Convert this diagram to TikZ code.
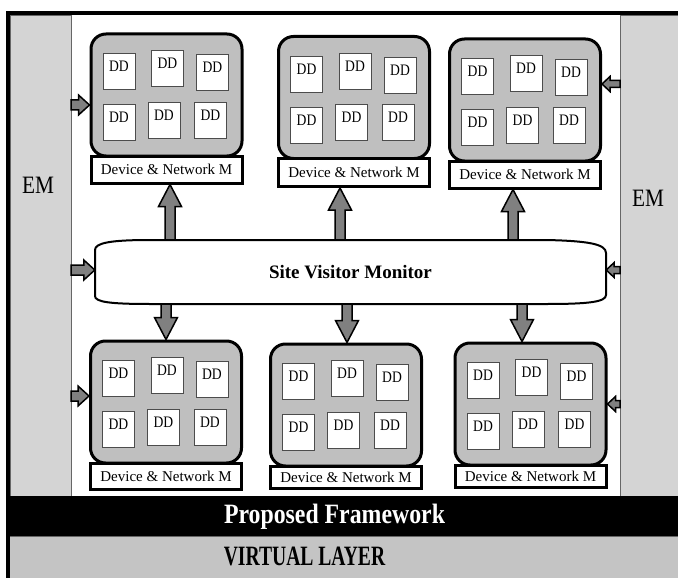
\documentclass[tikz,border=0pt]{standalone}
\usepackage{fontspec}
\setmainfont{Liberation Serif}
\newfontfamily\narrowfont{Liberation Serif}[FakeStretch=0.85]
\newfontfamily\tightfont{Liberation Serif}[FakeStretch=0.7]
\usetikzlibrary{calc,positioning}

\definecolor{modgray}{gray}{0.75}
\definecolor{stripgray}{gray}{0.83}
\definecolor{layergray}{gray}{0.77}
\definecolor{arrowgray}{gray}{0.5}

\tikzset{
  strip/.style={draw=black!60, line width=0.8pt, fill=stripgray, minimum height=481pt, inner sep=0pt, outer sep=0pt},
  module/.style={draw, line width=3pt, fill=modgray, rounded corners=15pt, minimum width=151pt, minimum height=122pt, inner sep=0pt},
  devlabel/.style={draw, line width=3pt, fill=white, minimum width=151pt, inner sep=0pt, font=\fontsize{15}{18}\selectfont},
  ddbox/.style={draw=black!70, line width=0.9pt, fill=white, minimum width=32pt, minimum height=36pt, inner sep=0pt, text depth=10pt, font=\narrowfont\fontsize{16}{18}\selectfont},
  blockarrow/.style args={#1/#2/#3}{draw, fill=arrowgray, line width=1.5pt, line join=miter,
    to path={($(\tikztostart)!#1!90:(\tikztotarget)$)
      -- ($(\tikztotarget)!#3!(\tikztostart)!#1!-90:(\tikztostart)$)
      -- ($(\tikztotarget)!#3!(\tikztostart)!#2!-90:(\tikztostart)$)
      -- (\tikztotarget)
      -- ($(\tikztotarget)!#3!(\tikztostart)!#2!90:(\tikztostart)$)
      -- ($(\tikztotarget)!#3!(\tikztostart)!#1!90:(\tikztostart)$)
      -- ($(\tikztostart)!#1!-90:(\tikztotarget)$) -- cycle}},
  bigarrow/.style={blockarrow=5pt/11.5pt/22pt},
  sidearrow/.style={blockarrow=5pt/10pt/11pt},
  smallarrow/.style={blockarrow=3.5pt/7.5pt/8pt}
}

\begin{document}
\begin{tikzpicture}[x=1pt,y=-1pt]
\useasboundingbox (0,0) rectangle (678,578);

% layers and side strips
\node[strip, minimum width=61pt] (emL) at (40.5,255.5) {};
\node[strip, minimum width=58pt] (emR) at (649,255.5) {};
\fill (10,496) rectangle (678,536);
\fill[layergray] (10,536) rectangle (678,578);
\draw[black!60, line width=0.8pt] (10,536) -- (678,536);
\draw[line width=4pt, line join=miter] (8,578) -- (8,13) -- (678,13);

\node[font=\narrowfont\fontsize{25}{28}\selectfont, anchor=base] (emLtext) at (38,193) {EM};
\node[font=\narrowfont\fontsize{25}{28}\selectfont, anchor=base] (emRtext) at (648,206) {EM};
\node[font=\narrowfont\bfseries\fontsize{28}{30}\selectfont, text=white, anchor=base] (fwtext) at (334.5,523) {Proposed Framework};
\node[font=\tightfont\bfseries\fontsize{28}{30}\selectfont, anchor=base] (vltext) at (304.5,565) {VIRTUAL LAYER};

% device groups
\foreach \name/\x/\y in {m1/166.5/95, m2/354/97.5, m3/525/100, m4/166/402, m5/346/405, m6/530.5/404}
  \node[module] (\name) at (\x,\y) {};
\foreach \i/\h in {1/27,2/28,3/27,4/26,5/22,6/22}
  \node[devlabel, minimum height=\h pt, below=-3pt of m\i] (l\i) {Device \& Network M};
\foreach \m in {1,...,6}
  \foreach \dx/\dy [count=\k] in {29.5/39, 78/36, 123/40, 29.5/90, 74.5/87.5, 121/87.5}
    \node[ddbox] (dd\m-\k) at ([shift={(\dx,\dy)}]m\m.north west) {DD};

% monitor
\draw[line width=2pt, fill=white] (150,240) -- (547,240) .. controls (588,241) and (606,244) .. (606,253)
  -- (606,295) .. controls (606,302) and (588,304) .. (547,304) -- (150,304)
  .. controls (110,304) and (95,302) .. (95,296) -- (95,250) .. controls (95,243) and (110,240) .. (150,240) -- cycle;
\node[font=\bfseries\fontsize{19}{22}\selectfont, minimum width=511pt, minimum height=64pt, inner sep=0pt] (svm) at (350.5,272) {Site Visitor Monitor};

% connectors
\coordinate (u1) at ([xshift=3.5pt]l1.south);
\coordinate (u2) at ([xshift=-14pt]l2.south);
\coordinate (u3) at ([xshift=-12pt]l3.south);
\coordinate (d1) at (m4.north);
\coordinate (d2) at ([xshift=1pt]m5.north);
\coordinate (d3) at ([xshift=-8.5pt]m6.north);
\coordinate (a1) at ([yshift=-10pt]m1.west);
\coordinate (a2) at ([yshift=2pt]svm.west);
\coordinate (a3) at ([yshift=6pt]m4.west);
\coordinate (b1) at ([yshift=16pt]m3.east);
\coordinate (b2) at ([yshift=2pt]svm.east);
\coordinate (b3) at (m6.east);
\foreach \i in {1,2,3} {
  \draw[bigarrow] (svm.north -| u\i) to (u\i);
  \draw[bigarrow] (svm.south -| d\i) to (d\i);
  \draw[sidearrow] (emL.east |- a\i) to (a\i);
  \draw[smallarrow] (emR.west |- b\i) to (b\i);
}
\end{tikzpicture}
\end{document}
